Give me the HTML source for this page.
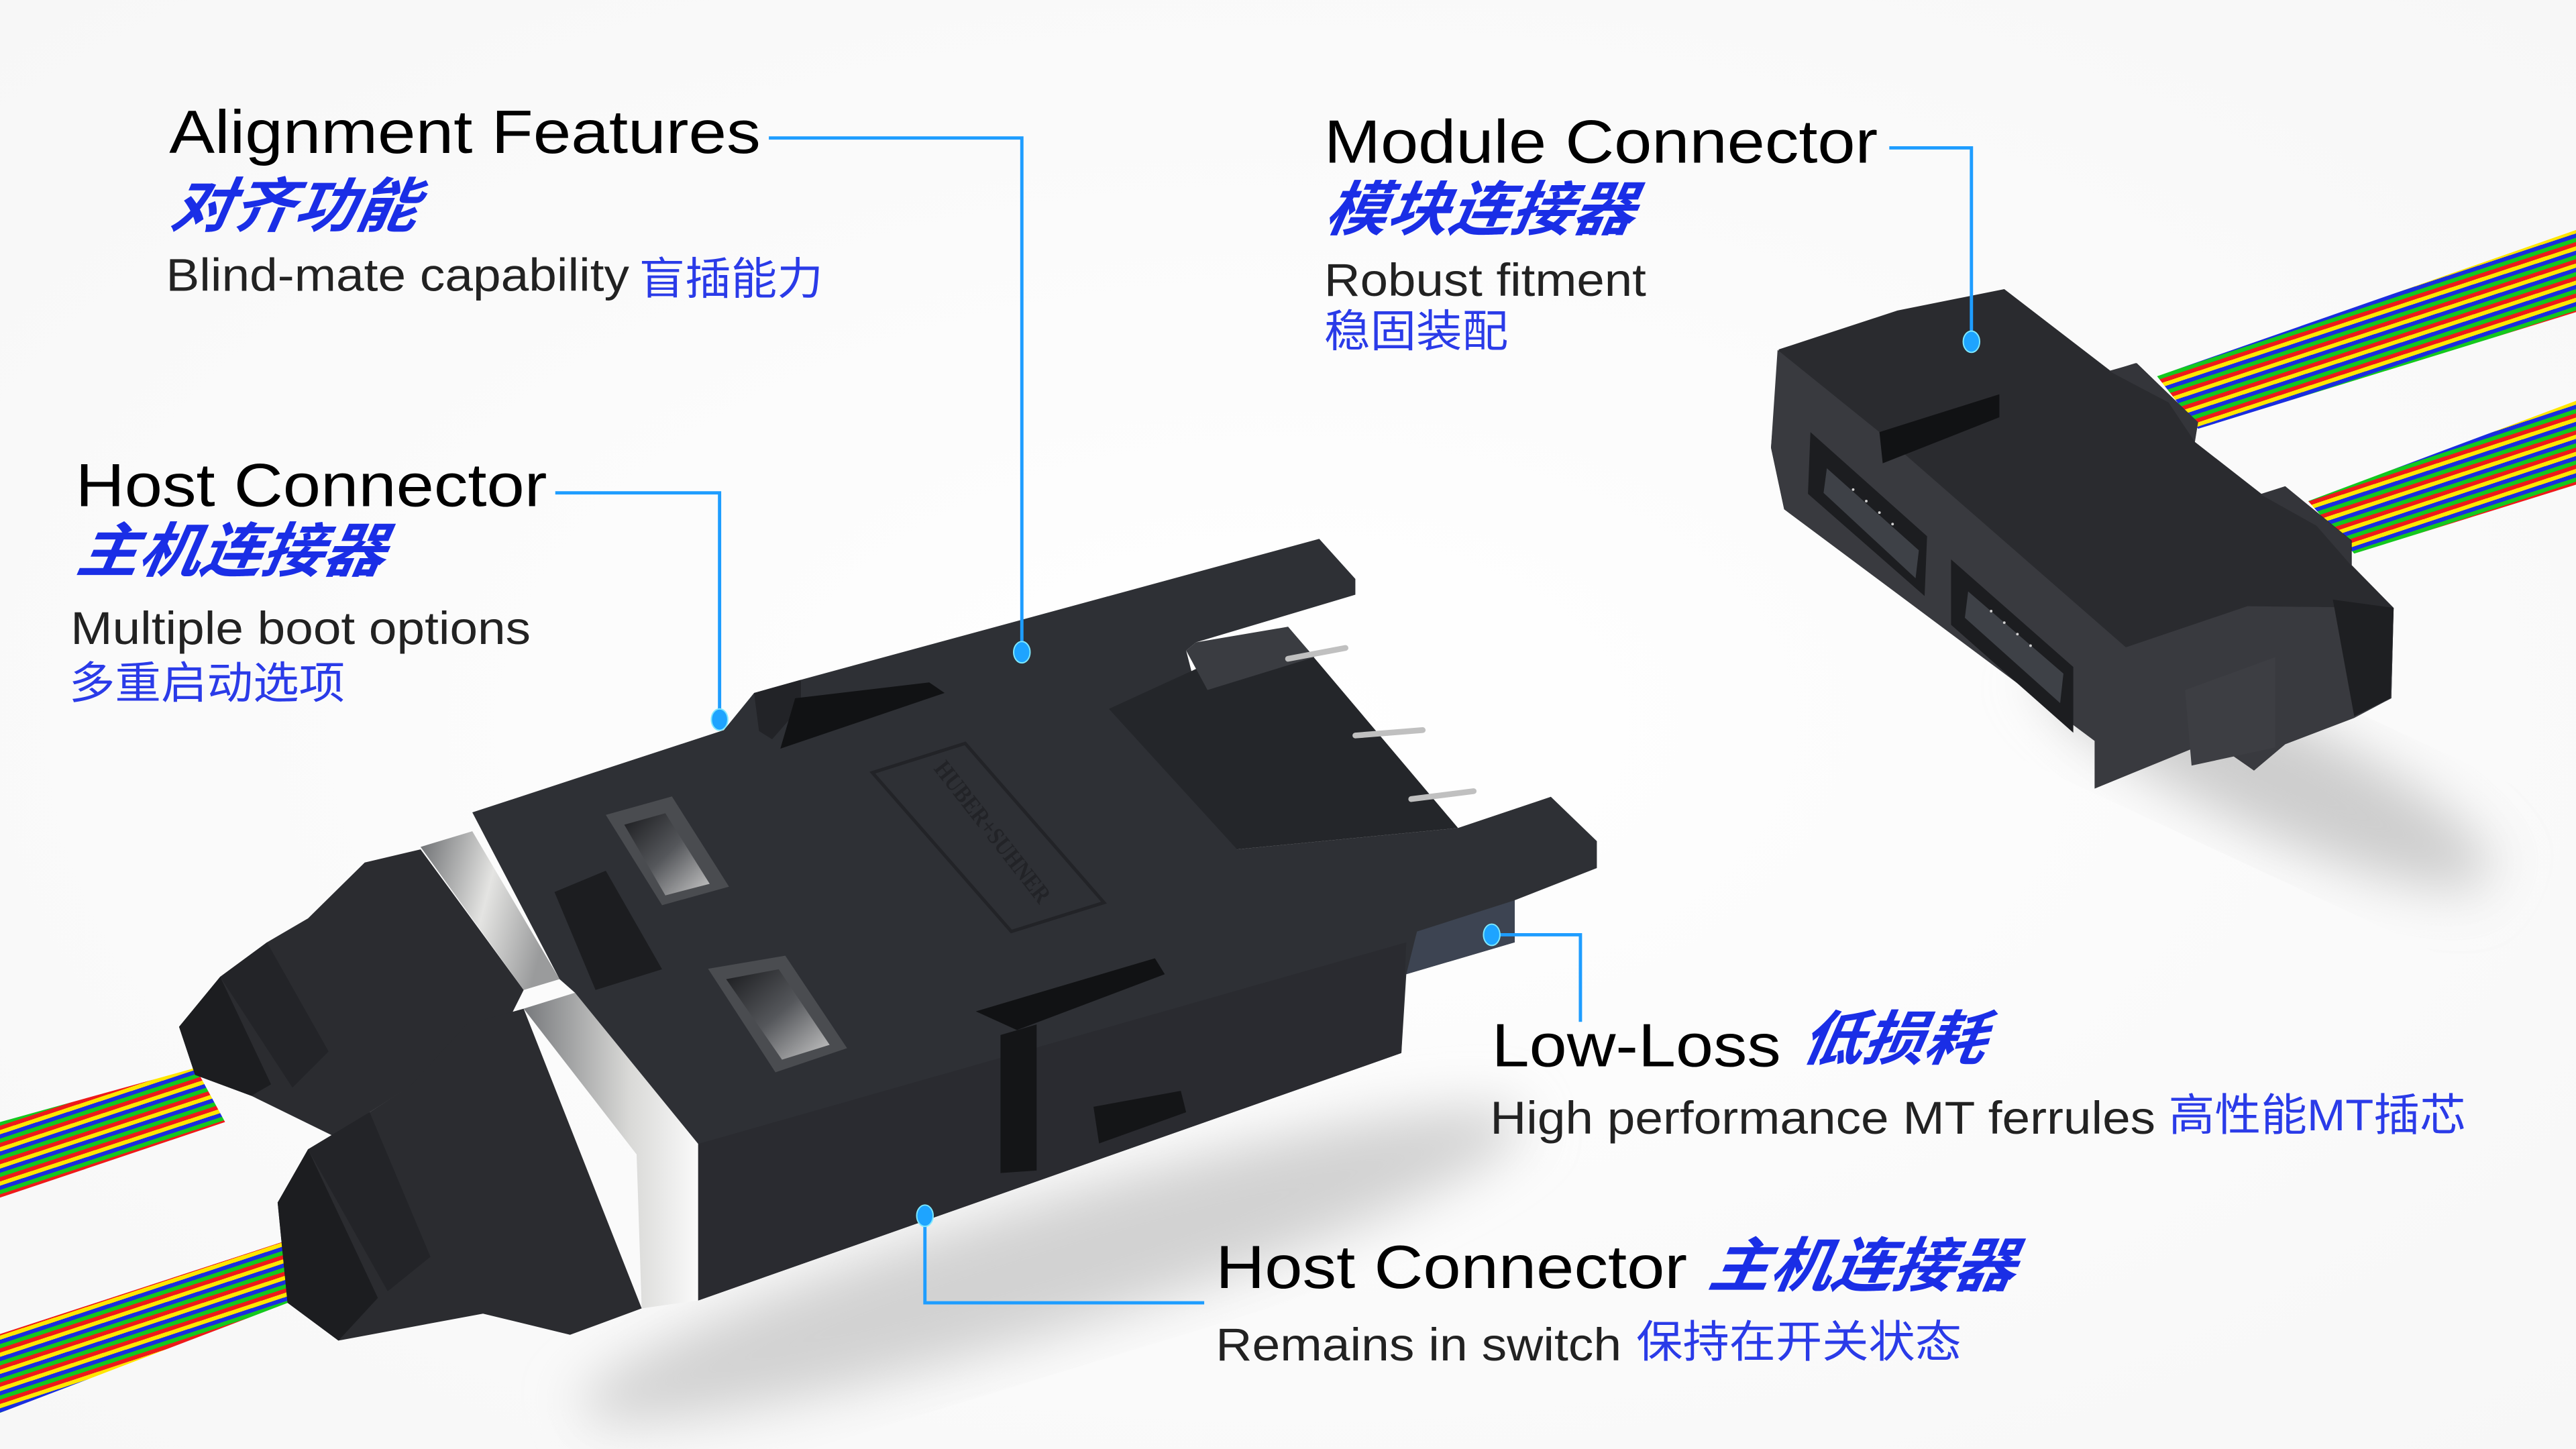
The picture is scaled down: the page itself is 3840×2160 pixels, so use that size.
<!DOCTYPE html>
<html><head><meta charset="utf-8"><style>
html,body{margin:0;padding:0;background:#fff;}
svg{display:block;}
.en{font-family:"Liberation Sans",sans-serif;}
.cn{font-family:"Liberation Sans","Noto Sans CJK SC",sans-serif;}
</style></head><body>
<svg width="3840" height="2160" viewBox="0 0 1568 882" xmlns="http://www.w3.org/2000/svg">
<defs>
<radialGradient id="bg" cx="50%" cy="50%" r="70%"><stop offset="0" stop-color="#ffffff"/><stop offset="1" stop-color="#f7f7f7"/></radialGradient>
<filter id="blur" x="-30%" y="-30%" width="160%" height="160%"><feGaussianBlur stdDeviation="16"/></filter>
<linearGradient id="silver" x1="0" y1="0" x2="1" y2="0.3"><stop offset="0" stop-color="#6d6f72"/><stop offset="0.55" stop-color="#e4e4e2"/><stop offset="1" stop-color="#9a9b9c"/></linearGradient>
<linearGradient id="silver2" x1="0" y1="0" x2="1" y2="0"><stop offset="0" stop-color="#77797c"/><stop offset="0.6" stop-color="#d8d8d6"/><stop offset="1" stop-color="#fafafa"/></linearGradient>
<linearGradient id="win" x1="0" y1="0" x2="1" y2="1"><stop offset="0" stop-color="#1a1b1e"/><stop offset="0.5" stop-color="#55575b"/><stop offset="1" stop-color="#c8c8c8"/></linearGradient>
<linearGradient id="rib" gradientUnits="userSpaceOnUse" x1="0" y1="0" x2="3.1" y2="9.4" spreadMethod="repeat">
 <stop offset="0" stop-color="#ffe600"/><stop offset="0.25" stop-color="#ffe600"/>
 <stop offset="0.25" stop-color="#1a2ee0"/><stop offset="0.5" stop-color="#1a2ee0"/>
 <stop offset="0.5" stop-color="#14c81e"/><stop offset="0.75" stop-color="#14c81e"/>
 <stop offset="0.75" stop-color="#ee1a1a"/><stop offset="1" stop-color="#ee1a1a"/>
</linearGradient>
</defs>
<rect width="1568" height="882" fill="url(#bg)"/>

<ellipse cx="1380" cy="470" rx="150" ry="35" fill="#cdcdcd" filter="url(#blur)" transform="rotate(25 1380 470)"/>
<ellipse cx="640" cy="770" rx="300" ry="40" fill="#d2d2d2" filter="url(#blur)" transform="rotate(-17 640 770)"/>

<polygon points="1313,229 1568,140 1568,190 1338,261" fill="url(#rib)"/>
<polygon points="1405,305 1568,244 1568,295 1433,337" fill="url(#rib)"/>
<polygon points="0,683 119,650 137,683 0,729" fill="url(#rib)"/>
<polygon points="0,812 178,754 191,787 0,860" fill="url(#rib)"/>

<g>
 <polygon points="1082.7,212.7 1155,189 1220,176 1284.5,225.6 1300.6,221 1337.8,257 1336,269 1376.5,300.6 1391,296 1431.5,329 1431.5,344 1457,370 1455.6,425 1433,436.6 1391,453 1372,469 1346,450.6 1275,480 1275,450.6 1086,310 1078,272.5" fill="#2a2b2f"/>
 <polygon points="1082,213 1144,263 1294,394 1368,369 1457,370 1455.6,425 1433,437 1391,453 1372,469 1346,451 1275,480 1275,451 1086,310 1078,272.5" fill="#393a3f"/>
 <polygon points="1102,263 1173,326.4 1171.5,362.8 1100.5,300.6" fill="#1c1d20"/>
 <polygon points="1112,285 1168,335 1166,352 1110,300" fill="#3e4147"/>
 <polygon points="1187.6,340.5 1262,406 1262,446 1187.6,380.3" fill="#1c1d20"/>
 <polygon points="1198,360 1256,410 1254,428 1196,376" fill="#3e4147"/>
 <polygon points="1144,263 1217,240 1217,254 1146,282" fill="#111214"/>
 <polygon points="1330,420 1385,400 1385,455 1334,466" fill="#3d3e43"/>
 <polygon points="1420,365 1457,370 1455,425 1433,436" fill="#1e1f22"/>
 <polygon points="1284,226 1300,221 1338,257 1336,269 1320,245" fill="#34353a"/>
 <polygon points="1376,301 1391,296 1431,329 1431,344 1410,320" fill="#34353a"/>
 <g fill="#cfcfcf"><circle cx="1128" cy="298" r="0.8"/><circle cx="1136" cy="305" r="0.8"/><circle cx="1144" cy="312" r="0.8"/><circle cx="1152" cy="319" r="0.8"/><circle cx="1212" cy="372" r="0.8"/><circle cx="1220" cy="379" r="0.8"/><circle cx="1228" cy="386" r="0.8"/><circle cx="1236" cy="393" r="0.8"/></g>
</g>

<g>
 <polygon points="222,525 256,517 318.75,602.6 300,640 250,661 225,677 206,693 153,667 118.75,654.3 109,625 134,594.6 162.5,573.6 187.5,559" fill="#2b2c30"/>
 <polygon points="109,625 134,594.6 165,660 153,667 118.75,654.3" fill="#1c1d20"/>
 <polygon points="134,594.6 162.5,573.6 200,640 178,662" fill="#232428"/>
 <polygon points="284,623.6 318.75,614 390.6,796.4 347,812.5 294,799.6 206,816 175,793 169,732 187.5,699.6 225,677 250,660.8" fill="#2b2c30"/>
 <polygon points="169,732 187.5,699.6 230,790 206,816 175,793" fill="#1c1d20"/>
 <polygon points="187.5,699.6 225,677 262,765 236,786" fill="#232428"/>
 <polygon points="256,515.5 287.5,506 340.6,596 318.75,602.6" fill="url(#silver)"/>
 <polygon points="318.75,614 350,604.3 425,696.3 425,791.6 390.6,796.4 387.5,702.7" fill="url(#silver2)"/>
 <polygon points="287.5,494.5 440.6,444.4 459,421.8 487.5,413.8 803,328 825,352.4 825,362 728,391 722,396 753,517 887.5,504 944,485 972,512 972,528.4 922,548 922,573.6 856,593 853,641 425,791.6 425,696.3 350,604.3 340.6,596" fill="#2e3035"/>
 <polygon points="425,696.3 856,573.6 853,641 425,791.6" fill="#2a2b30"/>
 <polygon points="675,431.5 784,381.5 887.5,504 753,517" fill="#24262a"/>
 <polygon points="722,396 728,391 784,381.5 800,400 735,420" fill="#3a3c41"/>
 <line x1="784" y1="401" x2="819" y2="394.4" stroke="#c0c0c0" stroke-width="3.5" stroke-linecap="round"/>
 <line x1="825" y1="447.7" x2="866" y2="444.4" stroke="#c0c0c0" stroke-width="3.5" stroke-linecap="round"/>
 <line x1="859" y1="486.4" x2="897" y2="481.6" stroke="#c0c0c0" stroke-width="3.5" stroke-linecap="round"/>
 <polygon points="459,421.8 487.5,413.8 487.5,430 470,450 462,445" fill="#222327"/>
 <polygon points="484,425 565.6,415.4 575,421.8 475,455.7" fill="#111214"/>
 <polygon points="368.75,496 409,484.8 443.75,539.7 403,551" fill="#4a4c50"/>
 <polygon points="380,502 405,495 432,538 405,545" fill="url(#win)"/>
 <polygon points="431,589.7 478,581.7 515.6,638 472,652.7" fill="#4a4c50"/>
 <polygon points="442,596 474,590 505,636 476,645" fill="url(#win)"/>
 <polygon points="337.5,543 368.75,530 403,590 362.5,602.6" fill="#1c1d20"/>
 <polygon points="531,470.3 587.5,452.5 672,549.4 615.6,567" fill="none" stroke="#222327" stroke-width="2"/>
 <text x="0" y="0" font-family="Liberation Serif,serif" font-size="15" font-weight="bold" fill="#222327" textLength="105" lengthAdjust="spacingAndGlyphs" transform="translate(568,468) rotate(52)">HUBER+SUHNER</text>
 <polygon points="594,615.6 703,583.3 709,593 619,627" fill="#111214"/>
 <polygon points="609,630 631,623.6 631,712.5 609,714" fill="#141517"/>
 <polygon points="665.6,673.7 718.75,664 722,677 669,696" fill="#141517"/>
 <polygon points="862.5,567 922,548 922,573.6 856,593" fill="#3d4452"/>
</g>

<g stroke="#1e9dff" stroke-width="2" fill="none">
 <polyline points="468,84 622,84 622,397"/>
 <polyline points="1150,90 1200,90 1200,208"/>
 <polyline points="338,300 438,300 438,438"/>
 <polyline points="908,569 962,569 962,622"/>
 <polyline points="563,740 563,793 733,793"/>
</g>
<g fill="#1ea4ff" stroke="#7fe8ff" stroke-width="0.8">
 <ellipse cx="622" cy="397" rx="5" ry="6.5"/>
 <ellipse cx="1200" cy="208" rx="5" ry="6.5"/>
 <ellipse cx="438" cy="438" rx="5" ry="6.5"/>
 <ellipse cx="908" cy="569" rx="5" ry="6.5"/>
 <ellipse cx="563" cy="740" rx="5" ry="6.5"/>
</g>

<g class="en" fill="#000">
 <text x="103" y="93" font-size="37" textLength="360" lengthAdjust="spacingAndGlyphs">Alignment Features</text>
 <text x="806" y="99" font-size="37" textLength="337" lengthAdjust="spacingAndGlyphs">Module Connector</text>
 <text x="46" y="308" font-size="37" textLength="287" lengthAdjust="spacingAndGlyphs">Host Connector</text>
 <text x="908" y="649" font-size="37" textLength="176" lengthAdjust="spacingAndGlyphs">Low-Loss</text>
 <text x="740" y="784" font-size="37" textLength="287" lengthAdjust="spacingAndGlyphs">Host Connector</text>
</g>
<g class="en" fill="#222">
 <text x="101" y="177" font-size="28" textLength="282" lengthAdjust="spacingAndGlyphs">Blind-mate capability</text>
 <text x="806" y="180" font-size="28" textLength="196" lengthAdjust="spacingAndGlyphs">Robust fitment</text>
 <text x="43" y="392" font-size="28" textLength="280" lengthAdjust="spacingAndGlyphs">Multiple boot options</text>
 <text x="907" y="690" font-size="28" textLength="405" lengthAdjust="spacingAndGlyphs">High performance MT ferrules</text>
 <text x="740" y="828" font-size="28" textLength="247" lengthAdjust="spacingAndGlyphs">Remains in switch</text>
</g>
<g class="cn" fill="#1a2ee6" font-weight="bold" font-style="italic">
 <text x="103" y="138" font-size="36" textLength="150" lengthAdjust="spacingAndGlyphs" transform="skewX(-10) translate(24,0)">对齐功能</text>
 <text x="806" y="140" font-size="36" textLength="188" lengthAdjust="spacingAndGlyphs" transform="skewX(-10) translate(24,0)">模块连接器</text>
 <text x="46" y="348" font-size="36" textLength="187" lengthAdjust="spacingAndGlyphs" transform="skewX(-10) translate(61,0)">主机连接器</text>
 <text x="1096" y="645" font-size="36" textLength="112" lengthAdjust="spacingAndGlyphs" transform="skewX(-10) translate(113,0)">低损耗</text>
 <text x="1040" y="783" font-size="36" textLength="186" lengthAdjust="spacingAndGlyphs" transform="skewX(-10) translate(137,0)">主机连接器</text>
</g>
<g class="cn" fill="#2a3be8">
 <text x="389" y="179" font-size="27" textLength="112" lengthAdjust="spacingAndGlyphs">盲插能力</text>
 <text x="806" y="211" font-size="27" textLength="112" lengthAdjust="spacingAndGlyphs">稳固装配</text>
 <text x="42" y="425" font-size="27" textLength="168" lengthAdjust="spacingAndGlyphs">多重启动选项</text>
 <text x="1320" y="688" font-size="27" textLength="181" lengthAdjust="spacingAndGlyphs">高性能MT插芯</text>
 <text x="996" y="826" font-size="27" textLength="198" lengthAdjust="spacingAndGlyphs">保持在开关状态</text>
</g>
</svg>
</body></html>
